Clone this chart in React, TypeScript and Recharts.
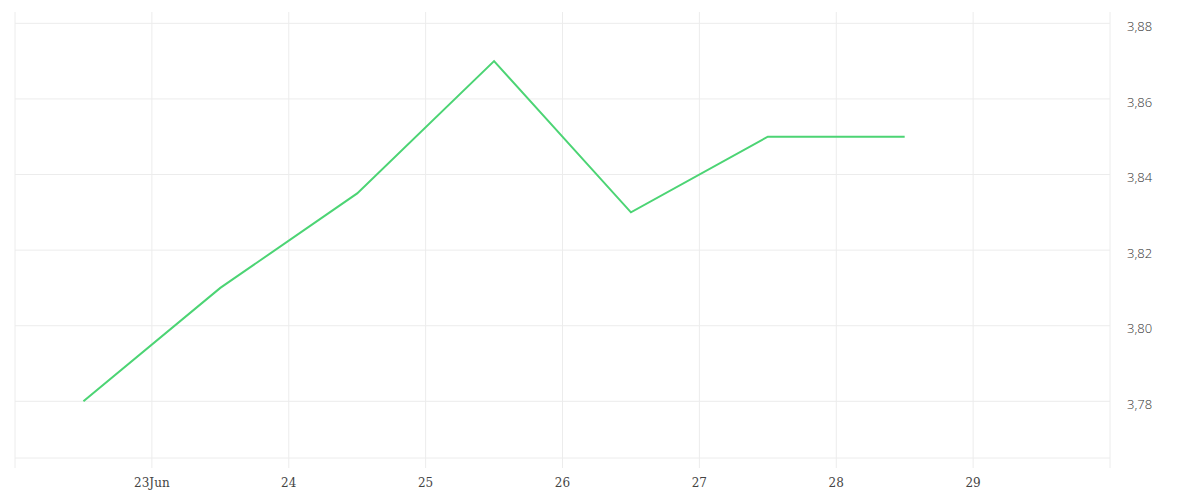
import React from 'react';
import { LineChart, Line, XAxis, YAxis, CartesianGrid, ReferenceLine } from 'recharts';

// days of June (points sit at midday), rates
const days = [22.5, 23.5, 24.5, 25.5, 26.5, 27.5, 28.5];
const rates = [3.78, 3.81, 3.835, 3.87, 3.83, 3.85, 3.85];

const xTicks = [22, 23, 24, 25, 26, 27, 28, 29, 30];
const yTicks = [3.78, 3.8, 3.82, 3.84, 3.86, 3.88];

const data = days.map((d, i) => ({ day: d, rate: rates[i] }));

const GRID = '#ececec';
const LINE = '#4cd474';

const formatDay = (d: number) => {
  if (d === 22 || d === 30) return '';
  if (d === 23) return '23Jun';
  return String(d);
};

const formatRate = (v: number) => v.toFixed(2).replace('.', ',');

export default function App() {
  return (
    <LineChart
      width={1184}
      height={492}
      data={data}
      margin={{ top: 4, right: 0, left: 7, bottom: 0 }}
    >
      <CartesianGrid stroke={GRID} strokeWidth={1} horizontal={false} />
      {yTicks.map((t) => (
        <ReferenceLine key={t} y={t} stroke={GRID} strokeWidth={1} />
      ))}
      <XAxis
        dataKey="day"
        type="number"
        domain={[22, 30]}
        ticks={xTicks}
        tickFormatter={formatDay}
        interval={0}
        height={42}
        axisLine={{ stroke: GRID }}
        tickLine={{ stroke: GRID }}
        tickSize={10}
        tickMargin={10}
        tick={{ fill: '#444', fontSize: 12, fontFamily: 'DejaVu Serif', fontWeight: 300 }}
      />
      <YAxis
        orientation="right"
        type="number"
        domain={[3.765, 3.883]}
        ticks={yTicks}
        tickFormatter={formatRate}
        width={82}
        axisLine={false}
        tickLine={false}
        tickMargin={11}
        tick={{ fill: '#333', fontSize: 13, fontFamily: 'Open Sans', fontWeight: 300, dy: 3 }}
      />
      <Line
        type="linear"
        dataKey="rate"
        stroke={LINE}
        strokeWidth={2}
        dot={false}
        isAnimationActive={false}
      />
    </LineChart>
  );
}
